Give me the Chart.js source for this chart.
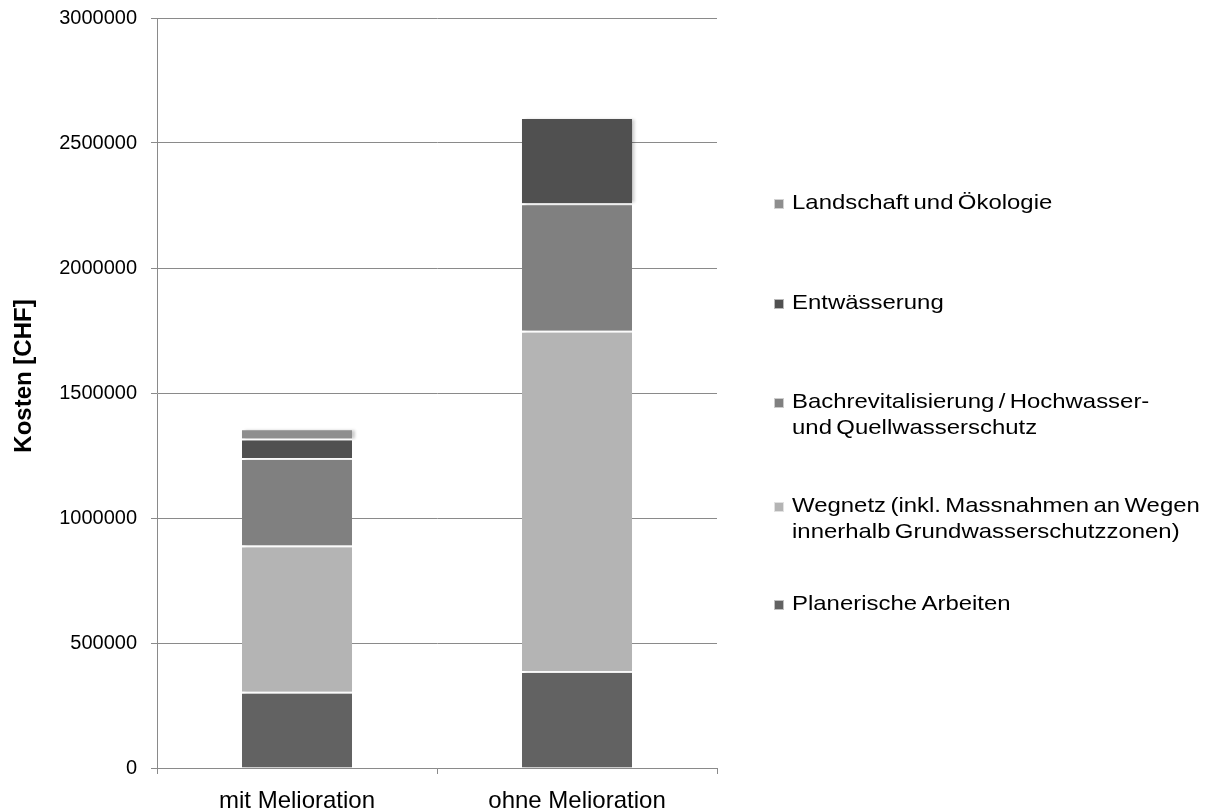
<!DOCTYPE html>
<html lang="de">
<head>
<meta charset="utf-8">
<title>Kosten mit und ohne Melioration</title>
<script src="https://cdn.jsdelivr.net/npm/chart.js@4/dist/chart.umd.min.js"></script>
<style>
  html, body { margin: 0; padding: 0; background: #ffffff; }
  #wrap { width: 1229px; height: 812px; position: relative; }
</style>
</head>
<body>
<div id="wrap"><canvas id="chart"></canvas></div>
<script>
// Categories on the x axis
const categories = ['mit Melioration', 'ohne Melioration'];

// Cost per category (CHF), one array per cost item
const planerischeArbeiten = [305000, 388000];
const wegnetz = [585000, 1361000];
const bachrevitalisierung = [350000, 510000];
const entwaesserung = [78000, 337000];
const landschaftOekologie = [33000, 0];

// Series names (multi-line names are split into lines)
const seriesNames = [
  ['Planerische Arbeiten'],
  ['Wegnetz (inkl. Massnahmen an Wegen', 'innerhalb Grundwasserschutzzonen)'],
  ['Bachrevitalisierung / Hochwasser-', 'und Quellwasserschutz'],
  ['Entwässerung'],
  ['Landschaft und Ökologie']
];
const seriesColors = ['#626262', '#b4b4b4', '#808080', '#505050', '#8e8e8e'];

// Value axis ticks
const yTicks = [0, 500000, 1000000, 1500000, 2000000, 2500000, 3000000];
const yTitle = 'Kosten [CHF]';

const seriesValues = [planerischeArbeiten, wegnetz, bachrevitalisierung, entwaesserung, landschaftOekologie];

const FONT = "'Liberation Sans', Arial, Helvetica, sans-serif";
const GRID = '#8a8a8a';

// White separator on top of every segment except the topmost one of a bar
function segmentBorder(ctx) {
  const col = ctx.dataIndex;
  let topIdx = -1;
  seriesValues.forEach((vals, i) => { if (vals[col] > 0) topIdx = i; });
  const top = ctx.datasetIndex === topIdx ? 0 : 2;
  return { top: top, bottom: 0, left: 0, right: 0 };
}

const datasets = seriesValues.map((vals, i) => ({
  label: seriesNames[i].join(' '),
  data: vals,
  backgroundColor: seriesColors[i],
  borderColor: '#ffffff',
  borderWidth: segmentBorder,
  borderSkipped: false,
  categoryPercentage: 1.0,
  barPercentage: 0.393
}));

// Soft shadow to the right of the bars
const barShadow = {
  id: 'barShadow',
  beforeDatasetsDraw(chart) {
    const c = chart.ctx;
    c.save();
    c.shadowColor = 'rgba(0,0,0,0.2)';
    c.shadowBlur = 3;
    c.shadowOffsetX = 3;
    c.shadowOffsetY = 0;
  },
  afterDatasetsDraw(chart) {
    chart.ctx.restore();
  }
};

// Rotated axis title and the legend to the right of the plot
const sideText = {
  id: 'sideText',
  afterDraw(chart, args, opts) {
    const c = chart.ctx;
    // axis title
    c.save();
    c.translate(opts.titleX, opts.titleY);
    c.rotate(-Math.PI / 2);
    c.font = 'bold 24px ' + FONT;
    c.fillStyle = '#000000';
    c.textAlign = 'center';
    c.textBaseline = 'middle';
    c.fillText(yTitle, 0, 0);
    c.restore();

    // legend, last series on top
    const order = chart.data.datasets.map((d, i) => i).reverse();
    order.forEach((dsIndex, k) => {
      const lines = seriesNames[dsIndex];
      const y0 = opts.legendY[k];
      const color = chart.data.datasets[dsIndex].backgroundColor;
      // marker
      c.save();
      c.fillStyle = color;
      c.fillRect(opts.markerX, y0 - 4, 10, 10);
      c.strokeStyle = 'rgba(255,255,255,0.6)';
      c.lineWidth = 1;
      c.strokeRect(opts.markerX + 0.5, y0 - 3.5, 9, 9);
      c.restore();
      // text
      lines.forEach((line, li) => {
        c.save();
        c.translate(opts.textX, y0 + li * opts.lineHeight);
        c.scale(1.14, 1);
        c.font = '21px ' + FONT;
        if ('wordSpacing' in c) c.wordSpacing = '-2px';
        c.fillStyle = '#000000';
        c.textAlign = 'left';
        c.textBaseline = 'middle';
        c.fillText(line, 0, 0);
        c.restore();
      });
    });
  }
};

new Chart(document.getElementById('chart'), {
  type: 'bar',
  data: { labels: categories, datasets: datasets },
  options: {
    responsive: true,
    maintainAspectRatio: false,
    animation: false,
    layout: { padding: { top: 18, right: 512, bottom: 0, left: 0 } },
    plugins: {
      legend: { display: false },
      tooltip: { enabled: false },
      sideText: {
        titleX: 24,
        titleY: 376,
        markerX: 774,
        textX: 792,
        lineHeight: 26,
        legendY: [203, 303, 402, 506, 604]
      }
    },
    scales: {
      x: {
        stacked: true,
        afterFit(scale) {
          scale.height = 44;
          scale.paddingLeft = 0;
          scale.paddingRight = 0;
        },
        grid: {
          offset: true,
          drawOnChartArea: false,
          drawTicks: true,
          tickLength: 6,
          color: GRID
        },
        border: { display: true, color: GRID, width: 1 },
        ticks: {
          padding: 13,
          color: '#000000',
          font: { family: FONT, size: 24 }
        }
      },
      y: {
        stacked: true,
        min: 0,
        max: 3000000,
        afterFit(scale) {
          scale.width = 157;
          scale.paddingTop = 0;
          scale.paddingBottom = 0;
        },
        afterBuildTicks(scale) { scale.ticks = yTicks.map(v => ({ value: v })); },
        grid: {
          color: GRID,
          lineWidth: 1,
          drawTicks: true,
          tickLength: 6
        },
        border: { display: true, color: GRID, width: 1 },
        ticks: {
          padding: 14,
          color: '#000000',
          font: { family: FONT, size: 20 },
          callback: (v) => String(v)
        }
      }
    }
  },
  plugins: [barShadow, sideText]
});
</script>
</body>
</html>
